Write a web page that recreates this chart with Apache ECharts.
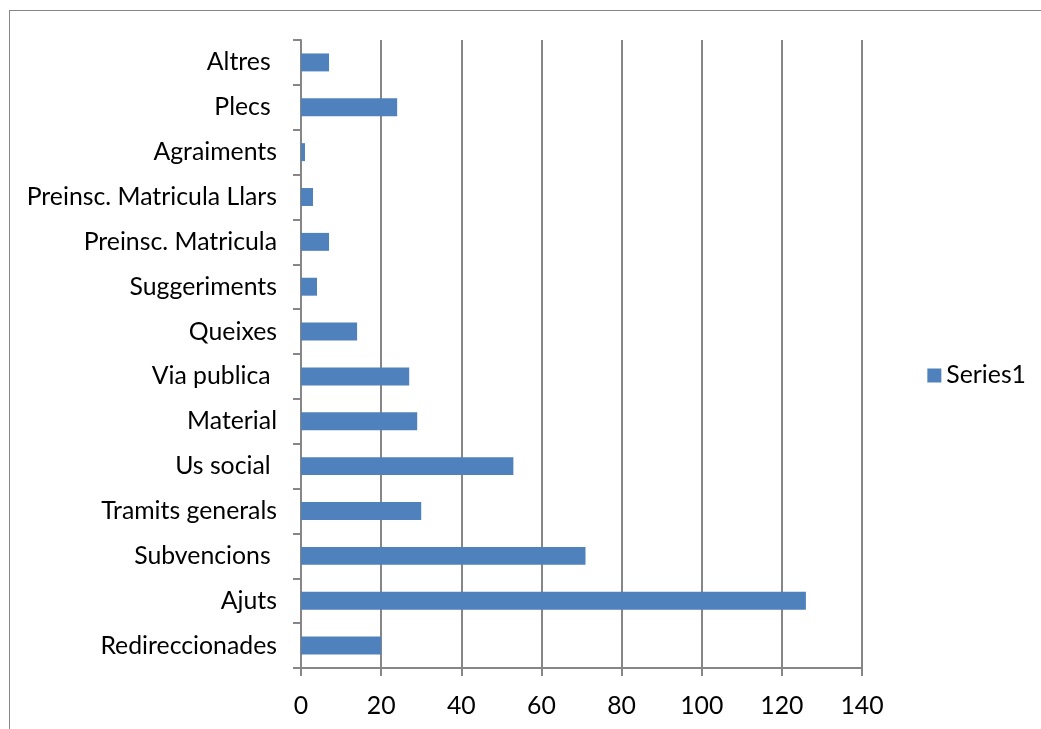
<!DOCTYPE html>
<html>
<head>
<meta charset="utf-8">
<script src="https://cdn.jsdelivr.net/npm/echarts@6/dist/echarts.min.js"></script>
<style>
html,body{margin:0;padding:0;background:#fff;}
#frame{position:absolute;left:9px;top:10px;width:1040px;height:730px;border:1.5px solid #868686;box-sizing:border-box;}
#chart{position:absolute;left:0;top:0;width:1041px;height:729px;}
</style>
</head>
<body>
<div id="frame"></div>
<div id="chart"></div>
<script>
const categories = ["Redireccionades", "Ajuts", "Subvencions ", "Tramits generals", "Us social ", "Material", "Via publica ", "Queixes", "Suggeriments", "Preinsc. Matricula", "Preinsc. Matricula Llars", "Agraiments", "Plecs ", "Altres "];
const values = [20, 126, 71, 30, 53, 29, 27, 14, 4, 7, 3, 1, 24, 7];
const xTicks = [0, 20, 40, 60, 80, 100, 120, 140];
const seriesName = "Series1";

const chart = echarts.init(document.getElementById('chart'), null, {renderer: 'canvas'});
const font = 'Lato, "Open Sans", sans-serif';
const fs = 24.8;
chart.setOption({
  animation: false,
  backgroundColor: 'transparent',
  textStyle: {fontFamily: font},
  grid: {left: 301, right: 179, top: 40, bottom: 61, containLabel: false},
  legend: {
    data: [seriesName], right: 10, top: 358, orient: 'vertical',
    itemWidth: 14, itemHeight: 14, itemGap: 8,
    icon: 'rect',
    textStyle: {fontFamily: font, fontSize: fs, color: '#000'}
  },
  xAxis: {
    type: 'value', min: xTicks[0], max: xTicks[xTicks.length - 1], interval: 20,
    axisLine: {show: true, lineStyle: {color: '#868686', width: 2}},
    axisTick: {show: true, length: 8, lineStyle: {color: '#868686', width: 2}},
    splitLine: {show: true, lineStyle: {color: '#868686', width: 2}},
    axisLabel: {color: '#000', fontSize: fs, fontFamily: font, margin: 26}
  },
  yAxis: {
    type: 'category', data: categories,
    axisLine: {show: true, lineStyle: {color: '#868686', width: 2}},
    axisTick: {show: true, length: 8, alignWithLabel: false, lineStyle: {color: '#868686', width: 2}},
    splitLine: {show: false},
    axisLabel: {color: '#000', fontSize: fs, fontFamily: font, margin: 24, interval: 0}
  },
  series: [{
    name: seriesName, type: 'bar', data: values,
    barCategoryGap: '60%',
    itemStyle: {color: '#4F81BD'}
  }]
});
</script>
</body>
</html>
